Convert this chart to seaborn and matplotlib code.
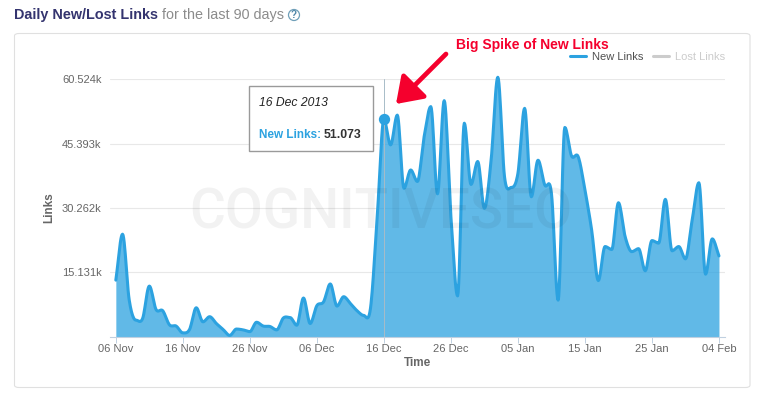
import numpy as np
import pandas as pd
import seaborn as sns
import matplotlib
matplotlib.use('Agg')
import matplotlib.pyplot as plt
from matplotlib.lines import Line2D
from matplotlib.patches import FancyBboxPatch, Rectangle, Circle

START_DAY = '2013-11-06'
new_links = [
    13.3, 24.1, 8.6, 3.9, 4.3, 11.9, 6.4, 6.1, 2.8, 2.5,
    0.9, 1.7, 6.8, 3.5, 4.7, 3.1, 1.7, 0.3, 1.8, 1.6,
    1.2, 3.4, 2.5, 2.4, 1.6, 4.4, 4.5, 2.7, 9.1, 3.1,
    7.3, 8.2, 12.4, 7.2, 9.4, 7.8, 6.1, 5.0, 6.7, 28.0,
    51.073, 45.1, 52.1, 34.9, 39.2, 36.5, 47.0, 54.1, 33.6, 55.5,
    28.2, 9.6, 50.2, 35.8, 41.2, 30.2, 41.5, 61.0, 37.6, 35.1,
    38.4, 53.7, 32.9, 41.5, 35.7, 33.7, 8.6, 49.2, 42.5, 42.3,
    34.5, 25.1, 13.2, 21.2, 20.5, 31.5, 23.5, 20.0, 20.7, 15.5,
    22.6, 22.0, 32.3, 20.2, 21.2, 18.3, 27.4, 36.2, 14.7, 23.0,
    19.0,
]
y_ticks = [15.131, 30.262, 45.393, 60.524]
y_labels = ['15.131k', '30.262k', '45.393k', '60.524k']
x_ticks = ['2013-11-06', '2013-11-16', '2013-11-26', '2013-12-06', '2013-12-16',
           '2013-12-26', '2014-01-05', '2014-01-15', '2014-01-25', '2014-02-04']
x_labels = ['06 Nov', '16 Nov', '26 Nov', '06 Dec', '16 Dec',
            '26 Dec', '05 Jan', '15 Jan', '25 Jan', '04 Feb']
spike_day = '2013-12-16'
spike_value = 51.073

W, H = 762, 395
BLUE = '#2ca2e0'
FONT = 'Liberation Sans'


def fx(x):
    return x / W


def fy(y):
    return 1 - y / H


def smooth(values, steps=12):
    # cubic through every daily value, flat at peaks and dips like the original spline
    v = np.array(values, dtype=float)
    t = np.gradient(v)
    for i in range(1, len(v) - 1):
        if (v[i] - v[i - 1]) * (v[i + 1] - v[i]) <= 0:
            t[i] = 0
    xs, ys = [], []
    for i in range(len(v) - 1):
        s = np.linspace(0, 1, steps, endpoint=False)
        h00 = 2 * s**3 - 3 * s**2 + 1
        h10 = s**3 - 2 * s**2 + s
        h01 = -2 * s**3 + 3 * s**2
        h11 = s**3 - s**2
        xs.extend(i + s)
        ys.extend(h00 * v[i] + h10 * t[i] + h01 * v[i + 1] + h11 * t[i + 1])
    xs.append(len(v) - 1)
    ys.append(v[-1])
    return np.array(xs), np.array(ys)


sns.set_style('white')
plt.rcParams['font.family'] = [FONT, 'DejaVu Sans']

fig = plt.figure(figsize=(W / 100, H / 100), dpi=100, facecolor='white')

# card behind the chart
fig.add_artist(FancyBboxPatch((fx(14.5), fy(387.5)), (750 - 14.5) / W, (387.5 - 33.5) / H,
                              boxstyle='round,pad=0,rounding_size=0.006',
                              transform=fig.transFigure, fc='white', ec='#e0e0e0', lw=0.8, zorder=-1))

ax = fig.add_axes([fx(110), fy(336.7), (725 - 110) / W, (336.7 - 79.3) / H])
ax.patch.set_alpha(0)

start = pd.Timestamp(START_DAY)
days, curve = smooth(new_links)
dates = start + pd.to_timedelta(days, unit='D')
df = pd.DataFrame({'Time': dates, 'Links': curve})

ax.fill_between(df['Time'], 0, df['Links'], color=BLUE, alpha=0.75, lw=0, zorder=2, clip_on=False)
sns.lineplot(data=df, x='Time', y='Links', color=BLUE, lw=2.2, ax=ax, zorder=3, clip_on=False,
             estimator=None, sort=False)

ax.set_xlim(start - pd.Timedelta(days=0.87), start + pd.Timedelta(days=90.9))
ax.set_ylim(0, 60.524)

ax.set_yticks(y_ticks)
ax.set_yticklabels(y_labels)
ax.set_xticks(pd.to_datetime(x_ticks))
ax.set_xticklabels(x_labels)
ax.grid(axis='y', color='#e8e8e8', lw=0.8, zorder=0)
ax.grid(axis='x', visible=False)
ax.set_axisbelow(True)
for name in ['top', 'left', 'right']:
    ax.spines[name].set_visible(False)
ax.spines['bottom'].set_color('#c0d0e0')
ax.spines['bottom'].set_linewidth(0.8)
ax.spines['bottom'].set_zorder(4)
ax.tick_params(axis='x', length=4, width=0.7, color='#c0d0e0', labelsize=8, labelcolor='#666666',
               bottom=True, pad=1.5)
ax.tick_params(axis='y', length=0, labelsize=8, labelcolor='#666666', pad=6)

ax.set_xlabel('')
ax.set_ylabel('')
fig.text(fx(417), fy(363), 'Time', fontsize=8.5, fontweight='bold', color='#666666', ha='center', va='center')
fig.text(fx(49.5), fy(208), 'Links', fontsize=8.5, fontweight='bold', color='#666666', rotation=90,
         ha='center', va='center')

# hover crosshair and point
sx = pd.Timestamp(spike_day)
ax.axvline(sx, color='#a8bcc8', lw=0.7, zorder=4)
ax.scatter([sx], [spike_value], s=66, color=BLUE, zorder=6, clip_on=False, linewidths=0)

# watermark
fig.text(fx(381), fy(213), 'COGNITIVESEO', fontsize=39.5, color='#000000', alpha=0.05, ha='center', va='center',
         family='Roboto', fontweight='medium', zorder=5)

# header
fig.text(fx(14), fy(15), 'Daily New/Lost Links', fontsize=10.4, fontweight='bold', color='#34346f', va='center')
fig.text(fx(162), fy(15), 'for the last 90 days', fontsize=10.4, color='#8c8c8c', va='center')
fig.add_artist(Circle((294 / 100, (H - 15) / 100), 0.055, transform=fig.dpi_scale_trans, fc='white', ec='#6f9fb8', lw=0.9))
fig.text(fx(294), fy(15), '?', fontsize=7, fontweight='bold', color='#4f87a8', ha='center', va='center')

# tooltip
fig.add_artist(Rectangle((fx(248.5), fy(151)), (373 - 248.5) / W, (151 - 86) / H, transform=fig.transFigure,
                         fc='white', ec='#9a9a9a', lw=1, zorder=7))
fig.text(fx(259), fy(103.5), '16 Dec 2013', fontsize=8.7, style='italic', color='#222222', va='center', zorder=8)
fig.text(fx(259), fy(135), 'New Links:', fontsize=8.5, fontweight='bold', color=BLUE, va='center', zorder=8)
fig.text(fx(324), fy(135), '51.073', fontsize=8.8, fontweight='bold', color='#333333', va='center', zorder=8)

# legend
handles = [Line2D([], [], color=BLUE, lw=2.2), Line2D([], [], color='#cccccc', lw=2.2)]
leg = fig.legend(handles, ['New Links', 'Lost Links'], loc='center right', bbox_to_anchor=(fx(725), fy(57)),
                 ncol=2, frameon=False, fontsize=8, handlelength=1.45, handletextpad=0.55, columnspacing=0.8,
                 borderpad=0, borderaxespad=0)
leg.get_texts()[0].set_color('#505050')
leg.get_texts()[1].set_color('#cccccc')

# red callout
fig.text(fx(456), fy(45), 'Big Spike of New Links', fontsize=10, fontweight='bold', color='#f5002d', va='center', zorder=9)
ax.annotate('', xy=(fx(396), fy(104)), xytext=(fx(446), fy(54)), xycoords='figure fraction',
            textcoords='figure fraction', zorder=9, annotation_clip=False,
            arrowprops=dict(arrowstyle='-|>,head_length=0.8,head_width=0.55', color='#f5002d', lw=3.4,
                            mutation_scale=19, shrinkA=0, shrinkB=0))

fig.savefig('out.png', dpi=100)
